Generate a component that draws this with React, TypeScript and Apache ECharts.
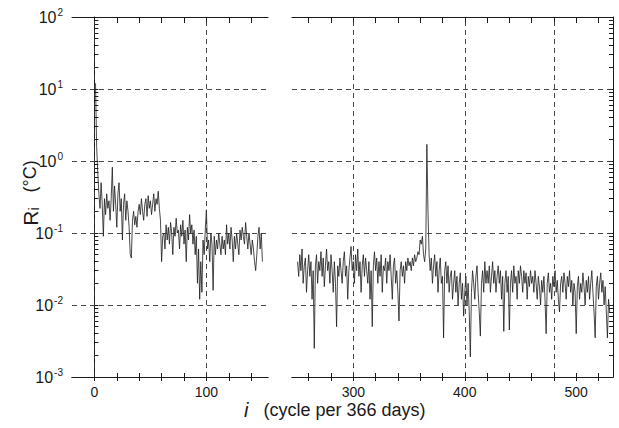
import React, { useEffect, useRef } from "react";
import * as echarts from "echarts";

// R_i amplitude spectrum, left panel: i = 1..150
const leftStart = 1;
const leftValues = [
  12, 1.6, 0.7, 0.35, 0.22, 0.5, 0.25, 0.09, 0.3, 0.18,
  0.35, 0.22, 0.28, 0.15, 0.3, 0.82, 0.2, 0.45, 0.25, 0.12,
  0.35, 0.5, 0.2, 0.3, 0.08, 0.25, 0.35, 0.15, 0.28, 0.2,
  0.12, 0.05, 0.045, 0.15, 0.2, 0.13, 0.17, 0.12, 0.2, 0.25,
  0.18, 0.3, 0.2, 0.15, 0.25, 0.3, 0.17, 0.33, 0.22, 0.28,
  0.18, 0.25, 0.35, 0.2, 0.3, 0.25, 0.38, 0.22, 0.15, 0.04,
  0.09, 0.1, 0.06, 0.13, 0.08, 0.12, 0.07, 0.14, 0.1, 0.05,
  0.12, 0.09, 0.16, 0.1, 0.11, 0.06, 0.13, 0.09, 0.15, 0.07,
  0.11, 0.04, 0.12, 0.08, 0.18, 0.1, 0.13, 0.07, 0.11, 0.05,
  0.09, 0.02, 0.06, 0.012, 0.04, 0.015, 0.08, 0.05, 0.11, 0.21,
  0.06, 0.08, 0.04, 0.1, 0.07, 0.016, 0.09, 0.05, 0.08, 0.06,
  0.1, 0.07, 0.05, 0.09, 0.06, 0.08, 0.05, 0.13, 0.07, 0.1,
  0.06, 0.12, 0.08, 0.04, 0.09, 0.06, 0.1, 0.07, 0.05, 0.11,
  0.08, 0.12, 0.09, 0.07, 0.14, 0.09, 0.06, 0.1, 0.07, 0.05,
  0.08, 0.06, 0.04, 0.03, 0.05, 0.09, 0.12, 0.06, 0.1, 0.04,
];

// right panel: i = 250..530
const rightStart = 250;
const rightValues = [
  0.04, 0.025, 0.05, 0.03, 0.06, 0.02, 0.035, 0.045, 0.015, 0.03,
  0.05, 0.025, 0.04, 0.012, 0.03, 0.0025, 0.035, 0.05, 0.02, 0.04,
  0.03, 0.055, 0.025, 0.045, 0.018, 0.035, 0.06, 0.03, 0.04, 0.02,
  0.05, 0.03, 0.015, 0.04, 0.02, 0.005, 0.035, 0.025, 0.045, 0.03,
  0.02, 0.04, 0.055, 0.025, 0.035, 0.012, 0.03, 0.045, 0.065, 0.03,
  0.04, 0.02, 0.05, 0.03, 0.06, 0.025, 0.04, 0.015, 0.035, 0.05,
  0.025, 0.045, 0.03, 0.02, 0.04, 0.012, 0.03, 0.005, 0.035, 0.055,
  0.03, 0.045, 0.02, 0.04, 0.025, 0.05, 0.015, 0.035, 0.03, 0.045,
  0.02, 0.04, 0.03, 0.05, 0.025, 0.012, 0.035, 0.045, 0.02, 0.03,
  0.015, 0.006, 0.03, 0.04, 0.025, 0.035, 0.02, 0.04, 0.03, 0.045,
  0.035, 0.04, 0.03, 0.045, 0.035, 0.05, 0.04, 0.045, 0.055, 0.05,
  0.08, 0.07, 0.09, 0.05, 0.04, 0.06, 1.7, 0.2, 0.05, 0.03,
  0.045, 0.02, 0.035, 0.05, 0.025, 0.04, 0.015, 0.03, 0.045, 0.02,
  0.025, 0.0035, 0.03, 0.04, 0.02, 0.035, 0.015, 0.025, 0.03, 0.012,
  0.02, 0.03, 0.015, 0.025, 0.01, 0.02, 0.028, 0.012, 0.02, 0.007,
  0.015, 0.025, 0.01, 0.02, 0.008, 0.0019, 0.015, 0.03, 0.02, 0.012,
  0.025, 0.035, 0.015, 0.008, 0.0037, 0.02, 0.03, 0.015, 0.04, 0.02,
  0.03, 0.02, 0.035, 0.015, 0.025, 0.04, 0.02, 0.03, 0.015, 0.025,
  0.035, 0.02, 0.03, 0.012, 0.025, 0.0043, 0.02, 0.03, 0.015, 0.025,
  0.0045, 0.02, 0.03, 0.015, 0.035, 0.02, 0.025, 0.012, 0.03, 0.02,
  0.035, 0.025, 0.015, 0.03, 0.02, 0.028, 0.012, 0.025, 0.018, 0.03,
  0.02, 0.025, 0.015, 0.03, 0.02, 0.012, 0.025, 0.018, 0.01, 0.022,
  0.015, 0.025, 0.012, 0.004, 0.02, 0.028, 0.015, 0.02, 0.012, 0.025,
  0.018, 0.03, 0.015, 0.022, 0.012, 0.008, 0.02, 0.025, 0.015, 0.028,
  0.02, 0.012, 0.025, 0.018, 0.03, 0.015, 0.022, 0.01, 0.02, 0.015,
  0.004, 0.018, 0.025, 0.012, 0.02, 0.015, 0.028, 0.018, 0.01, 0.022,
  0.015, 0.025, 0.012, 0.02, 0.03, 0.015, 0.008, 0.0035, 0.018, 0.025,
  0.012, 0.02, 0.028, 0.015, 0.022, 0.01, 0.018, 0.008, 0.0035, 0.012,
  0.008,
];

const leftXTicks = [0, 20, 40, 60, 80, 100, 120, 140];
const leftXLabels = [0, 100];
const rightXTicks = [260, 280, 300, 320, 340, 360, 380, 400, 420, 440, 460, 480, 500, 520];
const rightXLabels = [300, 400, 500];
const yDecades = [0.001, 0.01, 0.1, 1, 10, 100];
const yGridValues = [10, 1, 0.1, 0.01];
const leftXGrid = [0, 100];
const rightXGrid = [300, 400, 480];
const xTitle = "(cycle per 366 days)";

const FONT = "Liberation Sans";
const INK = "#1a1a1a";

const minorTicks: number[] = [];
for (let d = 0; d < yDecades.length - 1; d++) {
  for (let m = 1; m <= 9; m++) minorTicks.push(+(yDecades[d] * m).toPrecision(3));
}
minorTicks.push(100);

export default function App() {
  const ref = useRef<HTMLDivElement>(null);
  useEffect(() => {
    if (!ref.current) return;
    const chart = echarts.init(ref.current, null, { renderer: "svg" });
    const leftData = leftValues.map((v, k) => [leftStart + k, v]);
    const rightData = rightValues.map((v, k) => [rightStart + k, v]);
    const lineStyle = { color: INK, width: 1 };
    const dash = { color: "#333", width: 0.9, type: [5, 4] as number[] };

    const xBase = (grid: number, min: number, max: number) => ({
      type: "value" as const,
      gridIndex: grid,
      min,
      max,
      splitLine: { show: false },
      axisLine: { show: true, onZero: false, lineStyle },
    });
    const xAxes = (grid: number, min: number, max: number, ticks: number[], labels: number[]) => [
      {
        ...xBase(grid, min, max),
        position: "bottom",
        axisTick: { show: true, inside: false, length: 4, customValues: ticks, lineStyle },
        axisLabel: {
          show: true,
          customValues: labels,
          fontFamily: FONT,
          fontSize: 14,
          color: INK,
          margin: 8,
        },
      },
      {
        ...xBase(grid, min, max),
        position: "bottom",
        axisTick: { show: true, inside: true, length: 4, customValues: ticks, lineStyle },
        axisLabel: { show: false },
      },
      {
        ...xBase(grid, min, max),
        position: "top",
        axisTick: { show: true, inside: true, length: 6, customValues: ticks, lineStyle },
        axisLabel: { show: false },
      },
    ];

    const yBase = {
      type: "log" as const,
      logBase: 10,
      min: 0.001,
      max: 100,
      splitLine: { show: false },
      axisLine: { show: true, lineStyle },
    };

    const markLine = (xs: number[]) => ({
      silent: true,
      symbol: ["none", "none"],
      label: { show: false },
      lineStyle: dash,
      emphasis: { disabled: true },
      data: [...xs.map((x) => ({ xAxis: x })), ...yGridValues.map((y) => ({ yAxis: y }))],
    });

    chart.setOption({
      animation: false,
      grid: [
        { left: 72, width: 196, top: 17, height: 360 },
        { left: 292, width: 321, top: 17, height: 360 },
      ],
      xAxis: [
        ...xAxes(0, -20, 155, leftXTicks, leftXLabels),
        ...xAxes(1, 245, 533, rightXTicks, rightXLabels),
      ],
      yAxis: [
        {
          ...yBase,
          gridIndex: 0,
          position: "left",
          axisTick: { show: true, inside: true, length: 4, customValues: minorTicks, lineStyle },
          axisLabel: {
            show: true,
            customValues: yDecades,
            margin: 9,
            formatter: (v: number) => `{b|10}{s|${Math.round(Math.log10(v))}}`,
            rich: {
              b: { fontFamily: FONT, fontSize: 16, color: INK },
              s: { fontFamily: FONT, fontSize: 10, color: INK, padding: [0, 0, 10, 1] },
            },
          },
        },
        {
          ...yBase,
          gridIndex: 1,
          position: "right",
          axisTick: { show: true, inside: true, length: 4, customValues: minorTicks, lineStyle },
          axisLabel: { show: false },
        },
      ],
      series: [
        {
          type: "line",
          xAxisIndex: 0,
          yAxisIndex: 0,
          data: leftData,
          showSymbol: false,
          lineStyle: { color: INK, width: 0.8 },
          markLine: markLine(leftXGrid),
        },
        {
          type: "line",
          xAxisIndex: 3,
          yAxisIndex: 1,
          data: rightData,
          showSymbol: false,
          lineStyle: { color: INK, width: 0.8 },
          markLine: markLine(rightXGrid),
        },
      ],
      graphic: [
        {
          type: "text",
          x: 30,
          y: 193,
          rotation: Math.PI / 2,
          style: {
            text: "{r|R}{i|i}   (°C)",
            align: "center",
            verticalAlign: "middle",
            fill: INK,
            fontFamily: FONT,
            fontSize: 18,
            rich: {
              r: { fontFamily: FONT, fontSize: 21, fill: INK },
              i: { fontFamily: FONT, fontSize: 14, fill: INK, padding: [8, 0, 0, 0] },
            },
          },
        },
        {
          type: "text",
          x: 244,
          y: 410,
          style: {
            text: "{i|i}   " + xTitle,
            verticalAlign: "middle",
            fill: INK,
            fontFamily: FONT,
            fontSize: 18,
            rich: {
              i: { fontFamily: FONT, fontSize: 20, fontStyle: "italic", fill: INK },
            },
          },
        },
      ],
    });
    return () => chart.dispose();
  }, []);
  return (
    <div
      ref={ref}
      style={{ position: "fixed", left: 0, top: 0, width: 619, height: 428, background: "#fff" }}
    />
  );
}
